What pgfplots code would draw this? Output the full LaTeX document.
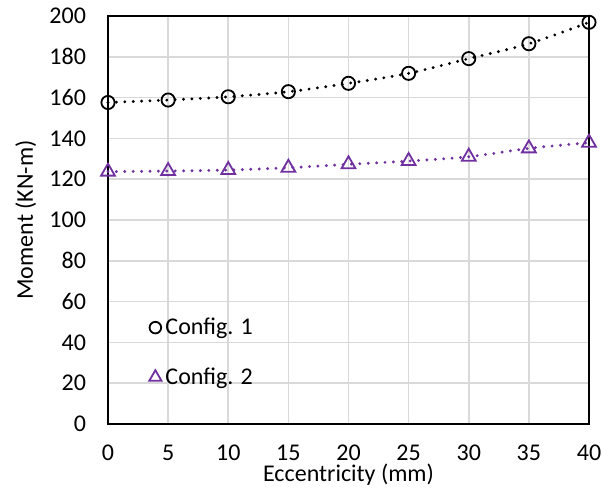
\documentclass[border=0pt]{standalone}
\usepackage{pgfplots}
\pgfplotsset{compat=1.18}
\usepackage{fontspec}
\setmainfont{Carlito}
\definecolor{cpurple}{HTML}{7030A0}
\definecolor{cgrid}{HTML}{D9D9D9}
\begin{document}
\begin{tikzpicture}[font=\fontsize{12}{14}\selectfont]
\begin{axis}[
  scale only axis, width=240.5pt, height=204pt,
  xmin=0, xmax=40, ymin=0, ymax=200,
  xtick={0,5,...,40}, ytick={0,20,...,200},
  grid=major, major grid style={cgrid, line width=0.8pt},
  axis line style={black, line width=0.8pt},
  tick style={draw=none},
  /pgf/number format/assume math mode=true,
  ticklabel style={font=\fontsize{12}{14}\selectfont},
  xticklabel style={yshift=-7pt},
  yticklabel style={xshift=-7.5pt},
  xlabel={Eccentricity (mm)}, ylabel={Moment (KN-m)},
  every axis x label/.style={at={(axis description cs:0.5,-0.142)}, anchor=base},
  every axis y label/.style={at={(axis description cs:-0.156,0.5)}, rotate=90, anchor=base},
  clip=false,
  legend style={draw=none, fill=none, at={(axis description cs:0.085,0.271)}, anchor=north west,
    font=\fontsize{12}{14}\selectfont, row sep=11pt, inner sep=0pt},
  legend cell align=left,
  legend image code/.code={\draw[#1, mark repeat=2, mark phase=2, every mark/.append style={scale=0.88}] plot coordinates {(0pt,0pt)(3.3pt,0pt)(7pt,0pt)};},
]
% trendlines
\addplot[black, line width=1.6pt, dash pattern=on 0pt off 4.2pt, line cap=round, smooth, forget plot] coordinates {
(0,157.6)(5,158.8)(10,160.4)(15,162.9)(20,167.0)(25,171.9)(30,179.1)(35,186.4)(40,196.9)};
\addplot[cpurple, line width=1.6pt, dash pattern=on 0pt off 4.2pt, line cap=round, smooth, forget plot] coordinates {
(0,123.7)(5,124.0)(10,124.5)(15,125.6)(20,127.3)(25,128.9)(30,131.0)(35,135.1)(40,137.9)};
% markers
\addplot[only marks, mark=o, mark size=3.3pt, mark options={black, line width=0.9pt}] coordinates {
(0,157.6)(5,158.8)(10,160.4)(15,162.9)(20,167.0)(25,171.9)(30,179.1)(35,186.4)(40,196.9)};
\addlegendentry{Config. 1}
\addplot[only marks, mark=triangle, mark size=4pt, mark options={cpurple, line width=0.9pt}] coordinates {
(0,123.7)(5,124.0)(10,124.5)(15,125.6)(20,127.3)(25,128.9)(30,131.0)(35,135.1)(40,137.9)};
\addlegendentry{Config. 2}
\end{axis}
\pgfresetboundingbox
\useasboundingbox ([xshift=-54pt,yshift=-35.5pt]current axis.south west) rectangle ([xshift=12pt,yshift=8pt]current axis.north east);
\end{tikzpicture}
\end{document}
